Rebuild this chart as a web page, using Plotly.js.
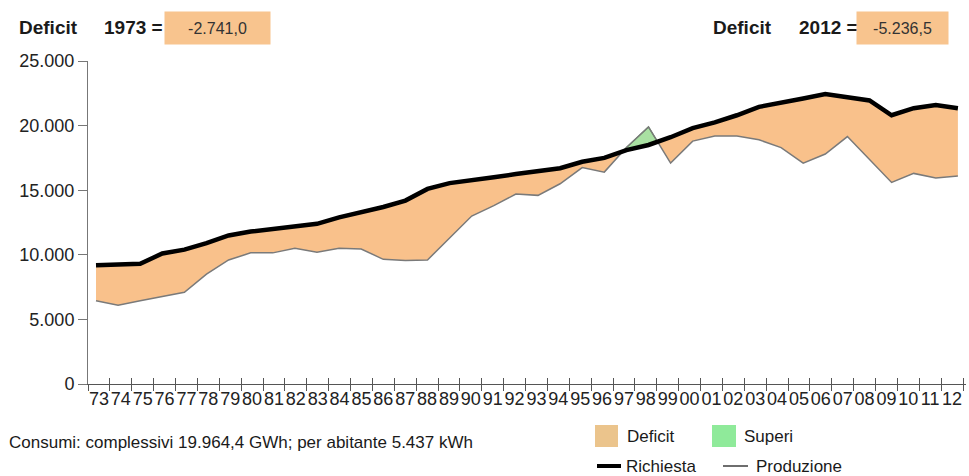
<!DOCTYPE html>
<html>
<head>
<meta charset="utf-8">
<script src="https://cdn.plot.ly/plotly-3.0.1.min.js"></script>
<style>html,body{margin:0;padding:0;background:#fff;}#chart{width:969px;height:476px;}</style>
</head>
<body>
<div id="chart"></div>
<script>
// ---- data ----
const years = ['73','74','75','76','77','78','79','80','81','82','83','84','85','86','87','88','89','90','91','92','93','94','95','96','97','98','99','00','01','02','03','04','05','06','07','08','09','10','11','12'];
const richiesta = [9190,9250,9300,10100,10400,10900,11500,11800,12000,12150,12400,12900,13300,13700,14200,15100,15550,15750,16000,16250,16450,16700,17200,17500,18100,18500,19100,19800,20250,20800,21450,21750,22100,22450,22200,21950,20800,21350,21600,21340];
const produzione = [6450,6100,6450,6750,7100,8500,9600,10150,10150,10500,10200,10500,10450,9650,9550,9600,11300,13000,13800,14700,14600,15500,16750,16400,18300,19900,17100,18800,19200,19200,18900,18300,17100,17800,19150,17400,15600,16300,15950,16100];
const yTicks = [0,5000,10000,15000,20000,25000];
const deficitLabels = ['1973 =','2012 ='];
const deficitValues = ['-2.741,0','-5.236,5'];
const footText = 'Consumi: complessivi 19.964,4 GWh; per abitante 5.437 kWh';
const legendNames = ['Deficit','Superi','Richiesta','Produzione'];

// ---- geometry helpers (pixels -> paper) ----
const L = 88, T = 61, W = 878, H = 323;
const px = x => (x - L) / W;
const py = y => (T + H - y) / H;
const FONT = 'Liberation Sans, Arial, Helvetica, sans-serif';

const idx = years.map((_, i) => i);
const bounds = years.map((_, i) => i - 0.5).concat([years.length - 0.5]);

// build fill boundaries with crossing points
const fx = [], fr = [], fmin = [], fmax = [];
for (let i = 0; i < years.length; i++) {
  const r = richiesta[i], p = produzione[i];
  fx.push(i); fr.push(r); fmin.push(Math.min(r, p)); fmax.push(Math.max(r, p));
  if (i < years.length - 1) {
    const d0 = p - r, d1 = produzione[i + 1] - richiesta[i + 1];
    if (d0 * d1 < 0) {
      const t = d0 / (d0 - d1);
      const yc = r + t * (richiesta[i + 1] - r);
      fx.push(i + t); fr.push(yc); fmin.push(yc); fmax.push(yc);
    }
  }
}

const traces = [
  {x: fx, y: fr, mode: 'lines', line: {width: 0}, hoverinfo: 'skip', showlegend: false},
  {x: fx, y: fmin, mode: 'lines', line: {width: 0}, fill: 'tonexty', fillcolor: '#F9C18B', name: 'Deficit', showlegend: false},
  {x: fx, y: fr, mode: 'lines', line: {width: 0}, hoverinfo: 'skip', showlegend: false},
  {x: fx, y: fmax, mode: 'lines', line: {width: 1.2, color: '#4E9A4E'}, fill: 'tonexty', fillcolor: '#A9E0A2', name: 'Superi', showlegend: false},
  {x: idx, y: produzione, mode: 'lines', line: {width: 1.5, color: '#7A7A7A'}, name: 'Produzione', showlegend: false},
  {x: idx, y: richiesta, mode: 'lines', line: {width: 4.5, color: '#000'}, name: 'Richiesta', showlegend: false},
  {x: [], y: [], xaxis: 'x2', mode: 'lines', showlegend: false, hoverinfo: 'skip'},
  {x: [], y: [], xaxis: 'x3', mode: 'lines', showlegend: false, hoverinfo: 'skip'}
];

const dx = 22.1, x0px = 96;
const r0 = (L - x0px) / dx, r1 = r0 + W / dx;
const tw = 21.875;
const a0 = -0.5, a1 = -0.5 + W / tw;

const annotations = [];
function txt(text, x, y, size, bold, anchor) {
  annotations.push({text: bold ? '<b>' + text + '</b>' : text, xref: 'paper', yref: 'paper', x: px(x), y: py(y),
    xanchor: anchor || 'left', yanchor: 'middle', showarrow: false, font: {family: FONT, size: size, color: '#1a1a1a'}});
}
txt('Deficit', 17, 28, 19, true);
txt(deficitLabels[0], 102, 28, 19, true);
txt('Deficit', 711, 28, 19, true);
txt(deficitLabels[1], 797, 28, 19, true);
annotations.push({text: deficitValues[0], xref: 'paper', yref: 'paper', x: px(217.5), y: py(28), xanchor: 'center', yanchor: 'middle',
  showarrow: false, width: 103, height: 30, bgcolor: '#F8C48E', borderpad: 1, font: {family: FONT, size: 16, color: '#333'}});
annotations.push({text: deficitValues[1], xref: 'paper', yref: 'paper', x: px(902.5), y: py(28), xanchor: 'center', yanchor: 'middle',
  showarrow: false, width: 89, height: 30, bgcolor: '#F8C48E', borderpad: 1, font: {family: FONT, size: 16, color: '#333'}});
txt(footText, 7, 442, 17, false);
txt(legendNames[0], 625, 436, 17, false);
txt(legendNames[1], 742, 436, 17, false);
txt(legendNames[2], 624, 466, 17, false);
txt(legendNames[3], 754, 466, 17, false);

const shapes = [
  {type: 'rect', xref: 'paper', yref: 'paper', x0: px(595), x1: px(618), y0: py(447), y1: py(425), fillcolor: '#EBC48C', line: {width: 0}},
  {type: 'rect', xref: 'paper', yref: 'paper', x0: px(712), x1: px(736), y0: py(447), y1: py(425), fillcolor: '#8FEA9A', line: {width: 0}},
  {type: 'line', xref: 'paper', yref: 'paper', x0: px(597), x1: px(621), y0: py(466), y1: py(466), line: {color: '#000', width: 4}},
  {type: 'line', xref: 'paper', yref: 'paper', x0: px(723), x1: px(748), y0: py(466), y1: py(466), line: {color: '#6E6E6E', width: 2}}
];

const layout = {
  width: 969, height: 476,
  margin: {l: L, r: 969 - L - W, t: T, b: 476 - T - H, pad: 0},
  paper_bgcolor: '#fff', plot_bgcolor: '#fff',
  separators: ',.',
  showlegend: false,
  font: {family: FONT, size: 17, color: '#222'},
  xaxis: {range: [r0, r1], showline: true, linecolor: '#555', linewidth: 1, showticklabels: false, ticks: '',
    showgrid: false, zeroline: false, fixedrange: true},
  xaxis2: {overlaying: 'x', anchor: 'y', side: 'bottom', range: [a0, a1], tickmode: 'array', tickvals: bounds,
    ticktext: bounds.map(() => ''), ticks: 'outside', ticklen: 6, tickcolor: '#555', tickwidth: 1,
    showline: false, showgrid: false, zeroline: false},
  xaxis3: {overlaying: 'x', anchor: 'y', side: 'bottom', range: [a0, a1], tickmode: 'array', tickvals: bounds,
    ticktext: bounds.map(() => ''), ticks: 'inside', ticklen: 6, tickcolor: '#555', tickwidth: 1,
    showline: false, showgrid: false, zeroline: false},
  yaxis: {range: [0, 25000], tickmode: 'array', tickvals: yTicks, tickformat: ',d', ticks: 'outside', ticklen: 9,
    tickcolor: '#777', showline: true, linecolor: '#777', showgrid: false, zeroline: false, fixedrange: true,
    tickfont: {family: FONT, size: 18, color: '#222'}},
  annotations: annotations,
  shapes: shapes
};
// tick labels at category centres on a 4th overlay axis
layout.xaxis4 = {overlaying: 'x', anchor: 'y', side: 'bottom', range: [a0, a1], tickmode: 'array', tickvals: idx,
  ticktext: years, ticks: '', tickangle: 0, ticklabelstandoff: 2, showline: false, showgrid: false, zeroline: false,
  tickfont: {family: FONT, size: 18, color: '#222'}};
traces.push({x: [], y: [], xaxis: 'x4', mode: 'lines', showlegend: false, hoverinfo: 'skip'});

Plotly.newPlot('chart', traces, layout, {staticPlot: true, displayModeBar: false});
</script>
</body>
</html>
